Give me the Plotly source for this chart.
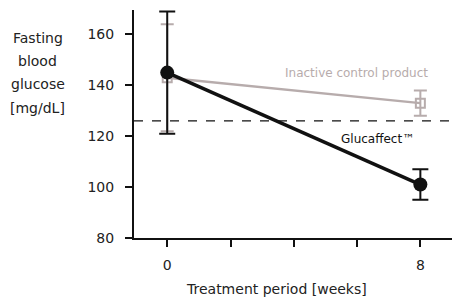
import plotly.graph_objects as go

weeks = [0, 8]
gluc_mean = [145, 101]
gluc_err = [24, 6]
ctrl_mean = [143, 133]
ctrl_err = [21, 5]
threshold = 126
y_ticks = [80, 100, 120, 140, 160]
x_ticks = [0, 2, 4, 6, 8]
x_tick_text = ["0", "", "", "", "8"]
y_title_lines = ["Fasting", "blood", "glucose", "[mg/dL]"]

GRAY = "#b7acac"
FONT = "DejaVu Sans"
TXT = "#222222"

fig = go.Figure()
fig.add_trace(go.Scatter(
    x=weeks, y=ctrl_mean, mode="lines+markers",
    line=dict(color=GRAY, width=2.5),
    marker=dict(symbol="square-open", size=9, color=GRAY, line=dict(width=2)),
    error_y=dict(type="data", array=ctrl_err, color=GRAY, thickness=2, width=6.5),
    showlegend=False))
fig.add_trace(go.Scatter(
    x=weeks, y=gluc_mean, mode="lines+markers",
    line=dict(color="#111111", width=3.5),
    marker=dict(symbol="circle", size=14, color="#111111"),
    error_y=dict(type="data", array=gluc_err, color="#111111", thickness=2, width=8),
    showlegend=False))

fig.add_shape(type="line", xref="paper", x0=0, x1=1, yref="y", y0=threshold, y1=threshold,
              line=dict(color="#111111", width=1.3, dash="dash"), layer="below")

fig.add_annotation(x=5.98, y=145, text="Inactive control product", showarrow=False,
                   font=dict(family=FONT, size=12, color=GRAY), xanchor="center")
fig.add_annotation(x=6.66, y=118.8, text="Glucaffect™", showarrow=False,
                   font=dict(family=FONT, size=12, color="#111111"), xanchor="center")
for line_text, py in zip(y_title_lines, [0.877, 0.776, 0.675, 0.570]):
    fig.add_annotation(xref="paper", yref="paper", x=-0.302, y=py, text=line_text,
                       showarrow=False, font=dict(family=FONT, size=14, color=TXT),
                       xanchor="center", yanchor="middle")
fig.add_annotation(xref="paper", yref="paper", x=0.447, y=-0.224,
                   text="Treatment period [weeks]", showarrow=False,
                   font=dict(family=FONT, size=14, color=TXT),
                   xanchor="center", yanchor="middle")

fig.update_layout(
    width=452, height=303,
    margin=dict(l=134, r=0, t=10, b=65),
    plot_bgcolor="white", paper_bgcolor="white",
    font=dict(family=FONT, size=13, color=TXT),
    xaxis=dict(range=[-1.05, 9], tickvals=x_ticks, ticktext=x_tick_text,
               ticks="outside", ticklen=7, tickwidth=2, tickcolor="#111111",
               showline=True, linecolor="#111111", linewidth=2, showgrid=False, zeroline=False,
               tickfont=dict(size=14), ticklabelstandoff=6),
    yaxis=dict(range=[80, 169.6], tickvals=y_ticks,
               ticks="outside", ticklen=7, tickwidth=2, tickcolor="#111111",
               showline=True, linecolor="#111111", linewidth=2, showgrid=False, zeroline=False,
               tickfont=dict(size=14), ticklabelstandoff=8),
)
fig.write_html("out.html", config={"displayModeBar": False},
               post_script="document.body.style.margin='0';document.body.style.overflow='hidden';")
